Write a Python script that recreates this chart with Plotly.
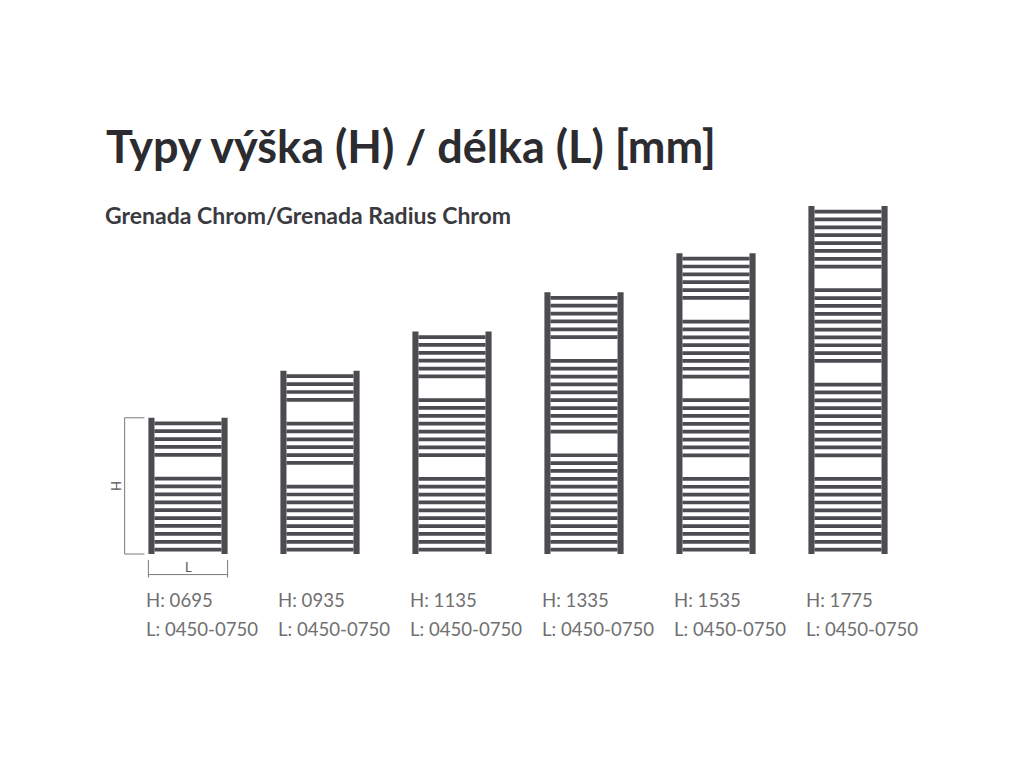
import plotly.graph_objects as go

# radiator heights H [mm] and length range L
heights = [695, 935, 1135, 1335, 1535, 1775]
h_labels = ["0695", "0935", "1135", "1335", "1535", "1775"]
l_labels = ["0450-0750"] * 6
# number of tubes in each block, top to bottom (blocks separated by a gap of 2 tubes)
bar_groups = [[5, 10], [4, 6, 9], [6, 8, 10], [6, 10, 13], [6, 8, 8, 10], [8, 10, 10, 10]]

DARK = "#4b4b50"
GREY = "#7a7a7a"
HALF_W = 0.30     # half width of radiator in x units
POST_W = 0.046
BAR_T = 19        # tube thickness in mm
GAP_SLOTS = 2
OFF = 8           # page body margin in px

fig = go.Figure()

for i, (h, groups) in enumerate(zip(heights, bar_groups)):
    # posts
    for x0 in (i - HALF_W, i + HALF_W - POST_W):
        fig.add_shape(type="rect", xref="x", yref="y", x0=x0, x1=x0 + POST_W, y0=0, y1=h,
                      fillcolor=DARK, line_width=0, layer="above")
    # tubes
    n_slots = sum(groups) + GAP_SLOTS * (len(groups) - 1)
    top, bottom = h - 28, 22
    pitch = (top - bottom) / (n_slots - 1)
    slot = 0
    for g in groups:
        for k in range(g):
            yc = top - (slot + k) * pitch
            fig.add_shape(type="rect", xref="x", yref="y",
                          x0=i - HALF_W + POST_W, x1=i + HALF_W - POST_W,
                          y0=yc - BAR_T / 2, y1=yc + BAR_T / 2,
                          fillcolor=DARK, line_width=0)
        slot += g + GAP_SLOTS
    # captions
    fig.add_annotation(x=i - HALF_W - 0.03, y=-235, xref="x", yref="y", text="H: " + h_labels[i],
                       showarrow=False, xanchor="left", yanchor="middle",
                       font=dict(family="Lato", size=18.6, color="#707070"))
    fig.add_annotation(x=i - HALF_W - 0.03, y=-383, xref="x", yref="y", text="L: " + l_labels[i],
                       showarrow=False, xanchor="left", yanchor="middle",
                       font=dict(family="Lato", size=18.6, color="#707070"))

# dimension lines on the first radiator
h0 = heights[0]
xl = -HALF_W - 0.18
fig.add_shape(type="line", xref="x", yref="y", x0=xl, x1=xl, y0=0, y1=h0, line=dict(color=GREY, width=1))
fig.add_shape(type="line", xref="x", yref="y", x0=xl, x1=xl + 0.15, y0=h0, y1=h0, line=dict(color=GREY, width=1))
fig.add_shape(type="line", xref="x", yref="y", x0=xl, x1=xl + 0.15, y0=0, y1=0, line=dict(color=GREY, width=1))
fig.add_annotation(x=xl - 0.065, y=h0 / 2, xref="x", yref="y", text="H", showarrow=False, textangle=-90,
                   font=dict(family="Lato", size=13, color="#555"))
yl = -105
fig.add_shape(type="line", xref="x", yref="y", x0=-HALF_W, x1=HALF_W, y0=yl, y1=yl, line=dict(color=GREY, width=1))
fig.add_shape(type="line", xref="x", yref="y", x0=-HALF_W, x1=-HALF_W, y0=yl - 15, y1=yl + 75, line=dict(color=GREY, width=1))
fig.add_shape(type="line", xref="x", yref="y", x0=HALF_W, x1=HALF_W, y0=yl - 15, y1=yl + 75, line=dict(color=GREY, width=1))
fig.add_annotation(x=0, y=yl + 40, xref="x", yref="y", text="L", showarrow=False,
                   font=dict(family="Lato", size=13, color="#555"))

# titles
fig.add_annotation(x=(104 - OFF) / 1024, y=1 - (146 - OFF) / 768, xref="paper", yref="paper",
                   xanchor="left", yanchor="middle",
                   text="<b>Typy výška (H) / délka (L) [mm]</b>", showarrow=False,
                   font=dict(family="Lato", size=45, color="#2b2b30"))
fig.add_annotation(x=(103 - OFF) / 1024, y=1 - (215 - OFF) / 768, xref="paper", yref="paper",
                   xanchor="left", yanchor="middle",
                   text="<b>Grenada Chrom/Grenada Radius Chrom</b>", showarrow=False,
                   font=dict(family="Lato", size=23, color="#3a3a40"))

fig.add_trace(go.Scatter(x=[], y=[], showlegend=False))
cx, base = 188 - OFF, 554 - OFF
fig.update_xaxes(range=[-cx / 132, (1024 - cx) / 132], visible=False, fixedrange=True)
fig.update_yaxes(range=[(base - 768) / 0.196, base / 0.196], visible=False, fixedrange=True)
fig.update_layout(width=1024, height=768, margin=dict(l=0, r=0, t=0, b=0),
                  plot_bgcolor="white", paper_bgcolor="white", showlegend=False)
fig.write_html("out.html")
